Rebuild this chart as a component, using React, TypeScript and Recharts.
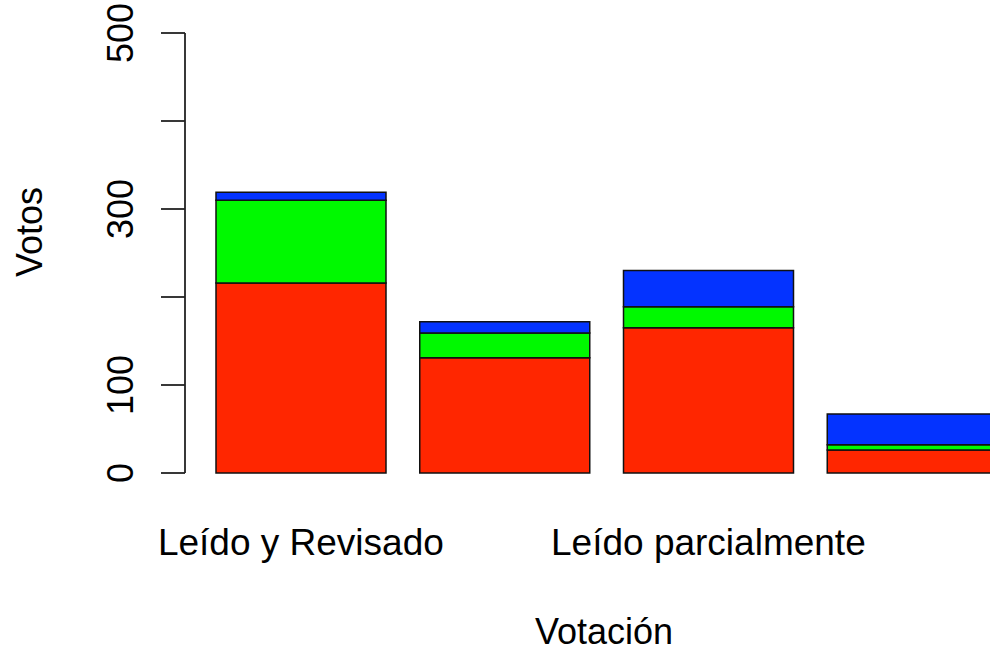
import { BarChart, Bar, XAxis, YAxis, Label } from "recharts";

const CATEGORIES = ["Leído y Revisado", "Leído sin revisar", "Leído parcialmente", "No leído"];
const ROJO = [216, 131, 165, 26];
const VERDE = [94, 28, 24, 6];
const AZUL = [9, 13, 41, 35];
const Y_TICKS = [0, 100, 200, 300, 400, 500];
// R leaves out labels that would overlap
const Y_LABELS_SHOWN = [0, 100, 300, 500];
const X_LABELS_SHOWN = [0, 2];

const DATA = CATEGORIES.map((name, i) => ({
  name,
  rojo: ROJO[i],
  verde: VERDE[i],
  azul: AZUL[i],
}));

const FONT = "'Liberation Sans', Arial, Helvetica, sans-serif";

function YTick(props: any) {
  const { x, y, payload } = props;
  if (!Y_LABELS_SHOWN.includes(payload.value)) return null;
  return (
    <text
      transform={`translate(${x - 26}, ${y}) rotate(-90)`}
      textAnchor="middle"
      fontSize={36}
      fontFamily={FONT}
      fill="#000"
    >
      {payload.value}
    </text>
  );
}

function XTick(props: any) {
  const { x, y, payload, index } = props;
  if (!X_LABELS_SHOWN.includes(index)) return null;
  return (
    <text x={x} y={y + 82} textAnchor="middle" fontSize={37} fontFamily={FONT} fill="#000">
      {payload.value}
    </text>
  );
}

export default function App() {
  return (
    <div
      style={{
        position: "absolute",
        left: 0,
        top: 0,
        width: 990,
        height: 653,
        overflow: "hidden",
        background: "#fff",
      }}
    >
      <BarChart
        width={1014}
        height={653}
        data={DATA}
        margin={{ top: 33, right: 0, bottom: 0, left: 0 }}
        barCategoryGap={17}
      >
        <XAxis
          dataKey="name"
          height={180}
          axisLine={false}
          tickLine={false}
          tickSize={0}
          tickMargin={0}
          padding={{ left: 14, right: 0 }}
          interval={0}
          tick={<XTick />}
        >
          <Label
            content={() => (
              <text x={604} y={644} textAnchor="middle" fontSize={36} fontFamily={FONT} fill="#000">
                Votación
              </text>
            )}
          />
        </XAxis>
        <YAxis
          width={185}
          domain={[0, 500]}
          ticks={Y_TICKS}
          interval={0}
          tickSize={24}
          tickMargin={2}
          axisLine={{ stroke: "#222", strokeWidth: 1.8 }}
          tickLine={{ stroke: "#222", strokeWidth: 1.8 }}
          tick={<YTick />}
        >
          <Label
            content={() => (
              <text
                transform="translate(42, 232) rotate(-90)"
                textAnchor="middle"
                fontSize={36}
                fontFamily={FONT}
                fill="#000"
              >
                Votos
              </text>
            )}
          />
        </YAxis>
        <Bar dataKey="rojo" stackId="a" fill="#FF2600" stroke="#111" strokeWidth={1.5} isAnimationActive={false} />
        <Bar dataKey="verde" stackId="a" fill="#00F900" stroke="#111" strokeWidth={1.5} isAnimationActive={false} />
        <Bar dataKey="azul" stackId="a" fill="#0433FF" stroke="#111" strokeWidth={1.5} isAnimationActive={false} />
      </BarChart>
    </div>
  );
}
